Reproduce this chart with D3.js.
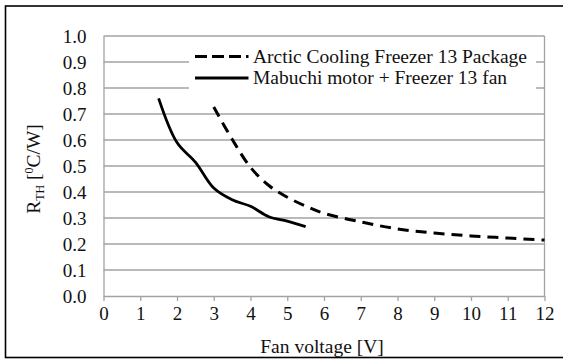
<!DOCTYPE html>
<html>
<head>
<meta charset="utf-8">
<script src="https://cdn.jsdelivr.net/npm/d3@7/dist/d3.min.js"></script>
<style>
  html, body { margin: 0; padding: 0; background: #fff; }
  svg { display: block; }
  svg text { font-family: "Liberation Serif", "Times New Roman", Times, "Tinos", "DejaVu Serif", "Noto Serif", serif; }
</style>
</head>
<body>
<svg id="chart" width="563" height="361"></svg>
<script>
// Fan voltage [V] vs thermal resistance [°C/W]
const xTicks = [0, 1, 2, 3, 4, 5, 6, 7, 8, 9, 10, 11, 12];
const yTicks = [0.0, 0.1, 0.2, 0.3, 0.4, 0.5, 0.6, 0.7, 0.8, 0.9, 1.0];

const seriesNames = ["Arctic Cooling Freezer 13 Package", "Mabuchi motor + Freezer 13 fan"];

const arcticVoltage = [3, 3.5, 4, 4.5, 5, 5.5, 6, 7, 8, 9, 10, 11, 12];
const arcticRth     = [0.727, 0.603, 0.495, 0.425, 0.38, 0.346, 0.318, 0.285, 0.258, 0.242, 0.231, 0.223, 0.215];

const mabuchiVoltage = [1.5, 2, 2.5, 3, 3.5, 4, 4.5, 5, 5.5];
const mabuchiRth     = [0.76, 0.59, 0.515, 0.415, 0.37, 0.345, 0.305, 0.288, 0.267];

const svg = d3.select("#chart");

// outer frame
svg.append("rect")
  .attr("x", 5.5).attr("y", 6)
  .attr("width", 570).attr("height", 351.5)
  .attr("fill", "none").attr("stroke", "#000").attr("stroke-width", 1.6);

const x = d3.scaleLinear().domain([0, 12]).range([103.5, 544.5]);
const y = d3.scaleLinear().domain([0, 1]).range([296, 36]);

const grey = "#a3a3a3";

// horizontal gridlines
svg.append("g").selectAll("line")
  .data(yTicks.filter(v => v > 0))
  .join("line")
  .attr("x1", x(0)).attr("x2", x(12))
  .attr("y1", d => y(d)).attr("y2", d => y(d))
  .attr("stroke", grey).attr("stroke-width", 1.3);

// right border of plot area
svg.append("line")
  .attr("x1", x(12)).attr("x2", x(12))
  .attr("y1", y(1)).attr("y2", y(0))
  .attr("stroke", grey).attr("stroke-width", 1.3);

// y axis (line only, labels on the left)
const yAxis = d3.axisLeft(y)
  .tickValues(yTicks)
  .tickFormat(d3.format(".1f"))
  .tickSize(0)
  .tickPadding(17);
const gy = svg.append("g").attr("transform", `translate(${x(0)},0)`).call(yAxis);
gy.attr("font-family", null).attr("font-size", 19);
gy.select(".domain").attr("stroke", grey).attr("stroke-width", 1.3);
gy.selectAll("text").attr("fill", "#111");

// x axis with small outward ticks
const xAxis = d3.axisBottom(x)
  .tickValues(xTicks)
  .tickFormat(d3.format("d"))
  .tickSizeInner(5)
  .tickSizeOuter(0)
  .tickPadding(6);
const gx = svg.append("g").attr("transform", `translate(0,${y(0)})`).call(xAxis);
gx.attr("font-family", null).attr("font-size", 19);
gx.select(".domain").attr("stroke", grey).attr("stroke-width", 1.3);
gx.selectAll(".tick line").attr("stroke", grey).attr("stroke-width", 1.3);
gx.selectAll("text").attr("fill", "#111");

// curves
const line = d3.line()
  .x(d => x(d[0]))
  .y(d => y(d[1]))
  .curve(d3.curveCatmullRom.alpha(0.5));

const arcticPts = arcticVoltage.map((v, i) => [v, arcticRth[i]]);
const mabuchiPts = mabuchiVoltage.map((v, i) => [v, mabuchiRth[i]]);

svg.append("path")
  .attr("d", line(arcticPts))
  .attr("fill", "none").attr("stroke", "#000")
  .attr("stroke-width", 3).attr("stroke-dasharray", "11,7");

svg.append("path")
  .attr("d", line(mabuchiPts))
  .attr("fill", "none").attr("stroke", "#000")
  .attr("stroke-width", 2.8).attr("stroke-linejoin", "round");

// legend
const legend = svg.append("g");
legend.append("rect")
  .attr("x", 189).attr("y", 40)
  .attr("width", 347).attr("height", 56)
  .attr("fill", "#fff");

const rows = [
  { name: seriesNames[0], dash: "12,5", ly: 56.5, ty: 62.5 },
  { name: seriesNames[1], dash: null,   ly: 78,   ty: 84 }
];
rows.forEach(r => {
  legend.append("line")
    .attr("x1", 195).attr("x2", 248.5)
    .attr("y1", r.ly).attr("y2", r.ly)
    .attr("stroke", "#000").attr("stroke-width", 3)
    .attr("stroke-dasharray", r.dash);
  legend.append("text")
    .attr("x", 253).attr("y", r.ty)
    .attr("font-size", 19.5)
    .attr("fill", "#111")
    .text(r.name);
});

// axis titles
svg.append("text")
  .attr("x", 322).attr("y", 352.5)
  .attr("text-anchor", "middle")
  .attr("font-size", 19.5)
  .attr("fill", "#111")
  .text("Fan voltage [V]");

const yTitle = svg.append("text")
  .attr("transform", "translate(39.5,169) rotate(-90)")
  .attr("text-anchor", "middle")
  .attr("font-size", 19.5)
  .attr("fill", "#111");
yTitle.append("tspan").text("R");
yTitle.append("tspan").attr("font-size", 12).attr("dy", 4).text("TH");
yTitle.append("tspan").attr("dy", -4).text(" [");
yTitle.append("tspan").attr("font-size", 12).attr("dy", -7).text("0");
yTitle.append("tspan").attr("dy", 7).text("C/W]");
</script>
</body>
</html>
